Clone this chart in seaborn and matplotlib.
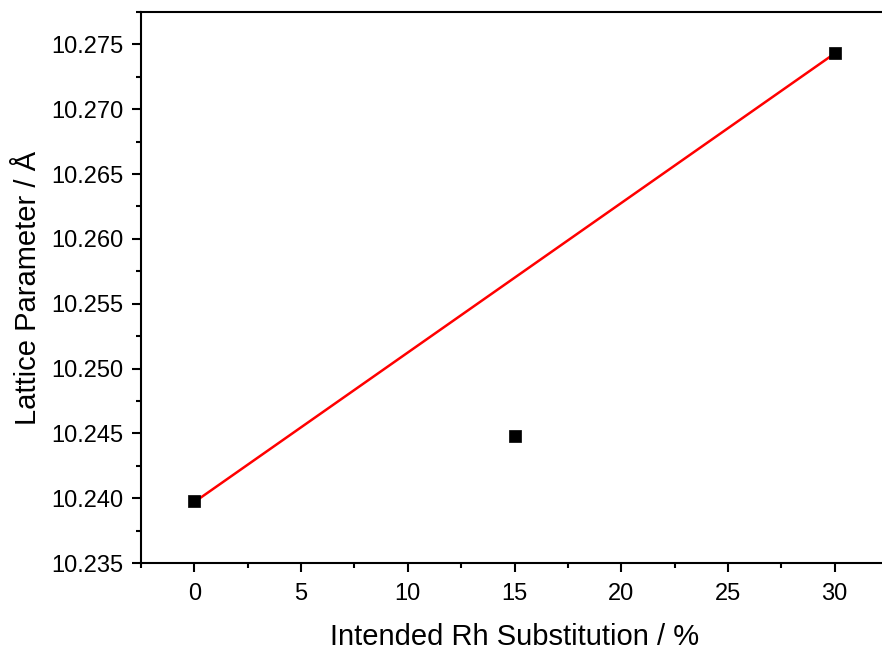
import matplotlib
matplotlib.use("Agg")
import matplotlib.pyplot as plt
import seaborn as sns
import pandas as pd
from matplotlib.ticker import MultipleLocator, FormatStrFormatter

substitution = [0, 15, 30]
lattice = [10.2398, 10.2448, 10.2743]
fit_x = [0, 30]
fit_y = [10.2397, 10.2743]

sns.set_style("ticks")
plt.rcParams['font.family'] = ['Liberation Sans', 'DejaVu Sans']
plt.rcParams['text.color'] = 'black'
plt.rcParams['axes.labelcolor'] = 'black'

fig = plt.figure(figsize=(8.82, 6.5), dpi=100)
ax = fig.add_axes([141/882, 1-563/650, (888-141)/882, (563-12)/650])

df = pd.DataFrame({"x": substitution, "y": lattice})
sns.lineplot(x=fit_x, y=fit_y, ax=ax, color="#ff0000", linewidth=1.8)
sns.scatterplot(data=df, x="x", y="y", ax=ax, marker="s", s=75, color="black",
                edgecolor="black", linewidth=0.5, zorder=3)

ax.set_xlim(-2.5, 32.5)
ax.set_ylim(10.235, 10.2775)
ax.xaxis.set_major_locator(MultipleLocator(5))
ax.xaxis.set_minor_locator(MultipleLocator(2.5))
ax.yaxis.set_major_locator(MultipleLocator(0.005))
ax.yaxis.set_minor_locator(MultipleLocator(0.0025))
ax.yaxis.set_major_formatter(FormatStrFormatter("%.3f"))

for s in ax.spines.values():
    s.set_linewidth(1.5)
    s.set_color("black")
ax.tick_params(which="major", direction="out", length=6.5, width=1.5, labelsize=17,
               colors="black", labelcolor="black", pad=6)
ax.tick_params(axis="x", which="major", pad=8)
ax.tick_params(which="minor", direction="out", length=3.5, width=1.5, colors="black")
ax.tick_params(top=False, right=False)

ax.set_xlabel("Intended Rh Substitution / %", fontsize=21, labelpad=13, color="black")
ax.set_ylabel("Lattice Parameter / Å", fontsize=21, labelpad=7, color="black")

fig.savefig("out.png", dpi=100)
